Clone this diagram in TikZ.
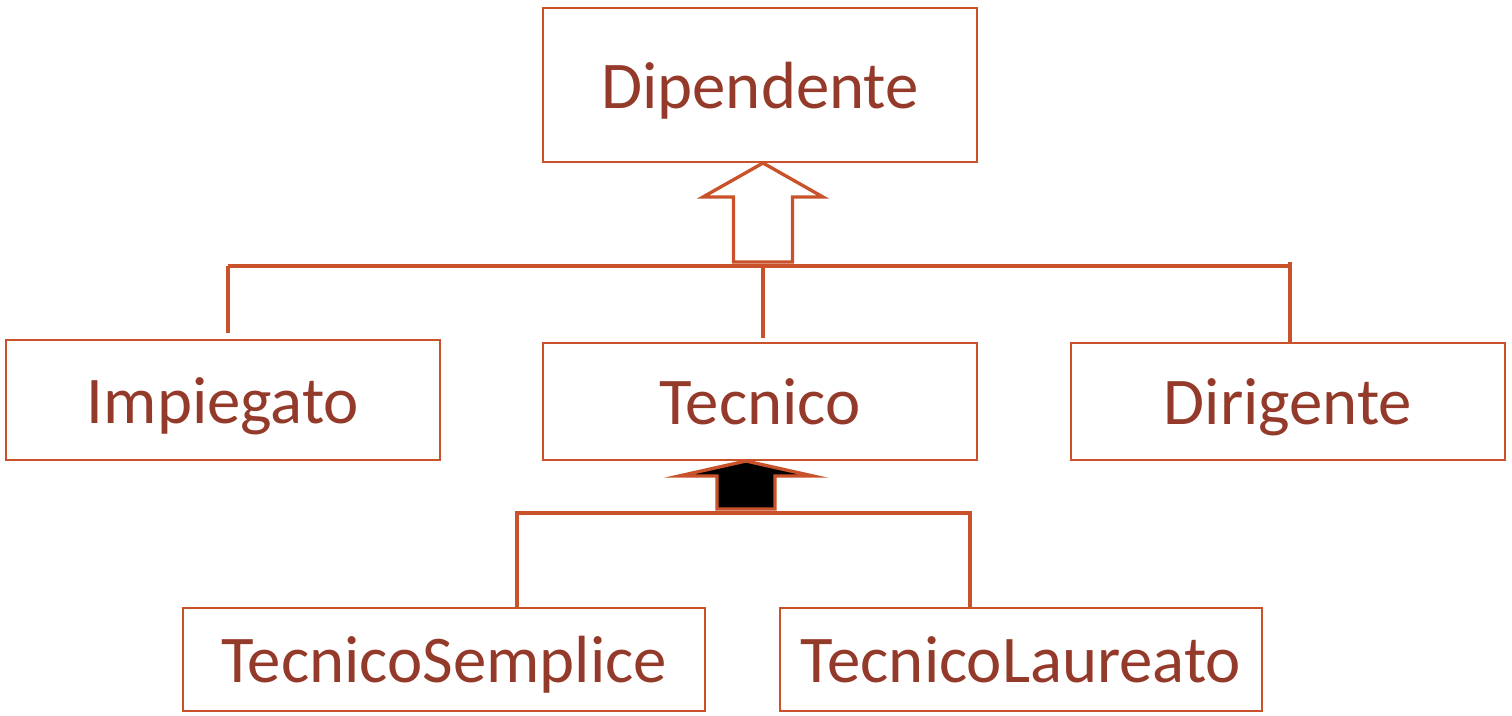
\documentclass[tikz,border=0pt]{standalone}
\usepackage{fontspec}
\setmainfont{Carlito}
\usetikzlibrary{positioning}
\definecolor{umlline}{HTML}{C9522B}
\definecolor{umltext}{HTML}{943A2A}

\begin{document}
\begin{tikzpicture}[
    x=.02cm,
    y=-.02cm,
    classbox/.style={
      draw=umlline,
      line width=1.6pt,
      text=umltext,
      inner sep=0,
      text height=26.2pt,
      text depth=0pt,
      font=\fontsize{38}{42}\selectfont,
    },
    link/.style={
      draw=umlline,
      line width=1.9pt,
    },
    isaarrow/.style={
      draw=umlline,
      line width=1.9pt,
      line join=miter,
    },
  ]
    % arrow shape: tip at (0,0), pointing up
    \newcommand\isashape[4]{%
      (0,0) -- (#1,#3) -- (#2,#3) -- (#2,#4) -- (-#2,#4) -- (-#2,#3) -- (-#1,#3) -- cycle
    }

    \useasboundingbox (0,0) rectangle (1512,716);

    \node[classbox,minimum width=434*.02cm,minimum height=154*.02cm] (dipendente) at (760,85) {Dipendente};
    \node[classbox,minimum width=434*.02cm,minimum height=120*.02cm] (impiegato) at (223,400) {Impiegato};
    \node[classbox,minimum width=434*.02cm,minimum height=117*.02cm] (tecnico) at (760,401.5) {Tecnico};
    \node[classbox,minimum width=434*.02cm,minimum height=117*.02cm] (dirigente) at (1288,401.5) {Dirigente};
    \node[classbox,minimum width=522*.02cm,minimum height=103*.02cm] (semplice) at (444,659.5) {TecnicoSemplice};
    \node[classbox,minimum width=482*.02cm,minimum height=103*.02cm] (laureato) at (1021,659.5) {TecnicoLaureato};

    % first level
    \coordinate (busL) at (228,266);
    \coordinate (busR) at (1290,266);
    \draw[link] (busL) -- (busR);
    \draw[link,shorten >=3pt] (busL) -- (busL |- impiegato.north);
    \draw[link] (busR) ++(0,-4) -- (busR |- dirigente.north);
    \draw[link,shorten <=2.3pt] (tecnico.north -| 763,0) -- (763,266);
    \draw[isaarrow,fill=white,shift={(763,163)}] \isashape{60}{29.5}{34}{99};

    % second level
    \coordinate (subL) at (517,513);
    \coordinate (subR) at (970,513);
    \draw[link] (subL |- semplice.north) |- (subR) -- (subR |- laureato.north);
    \draw[isaarrow,fill=black,shift={(746,461)}] \isashape{67}{29}{15}{48};
\end{tikzpicture}
\end{document}
